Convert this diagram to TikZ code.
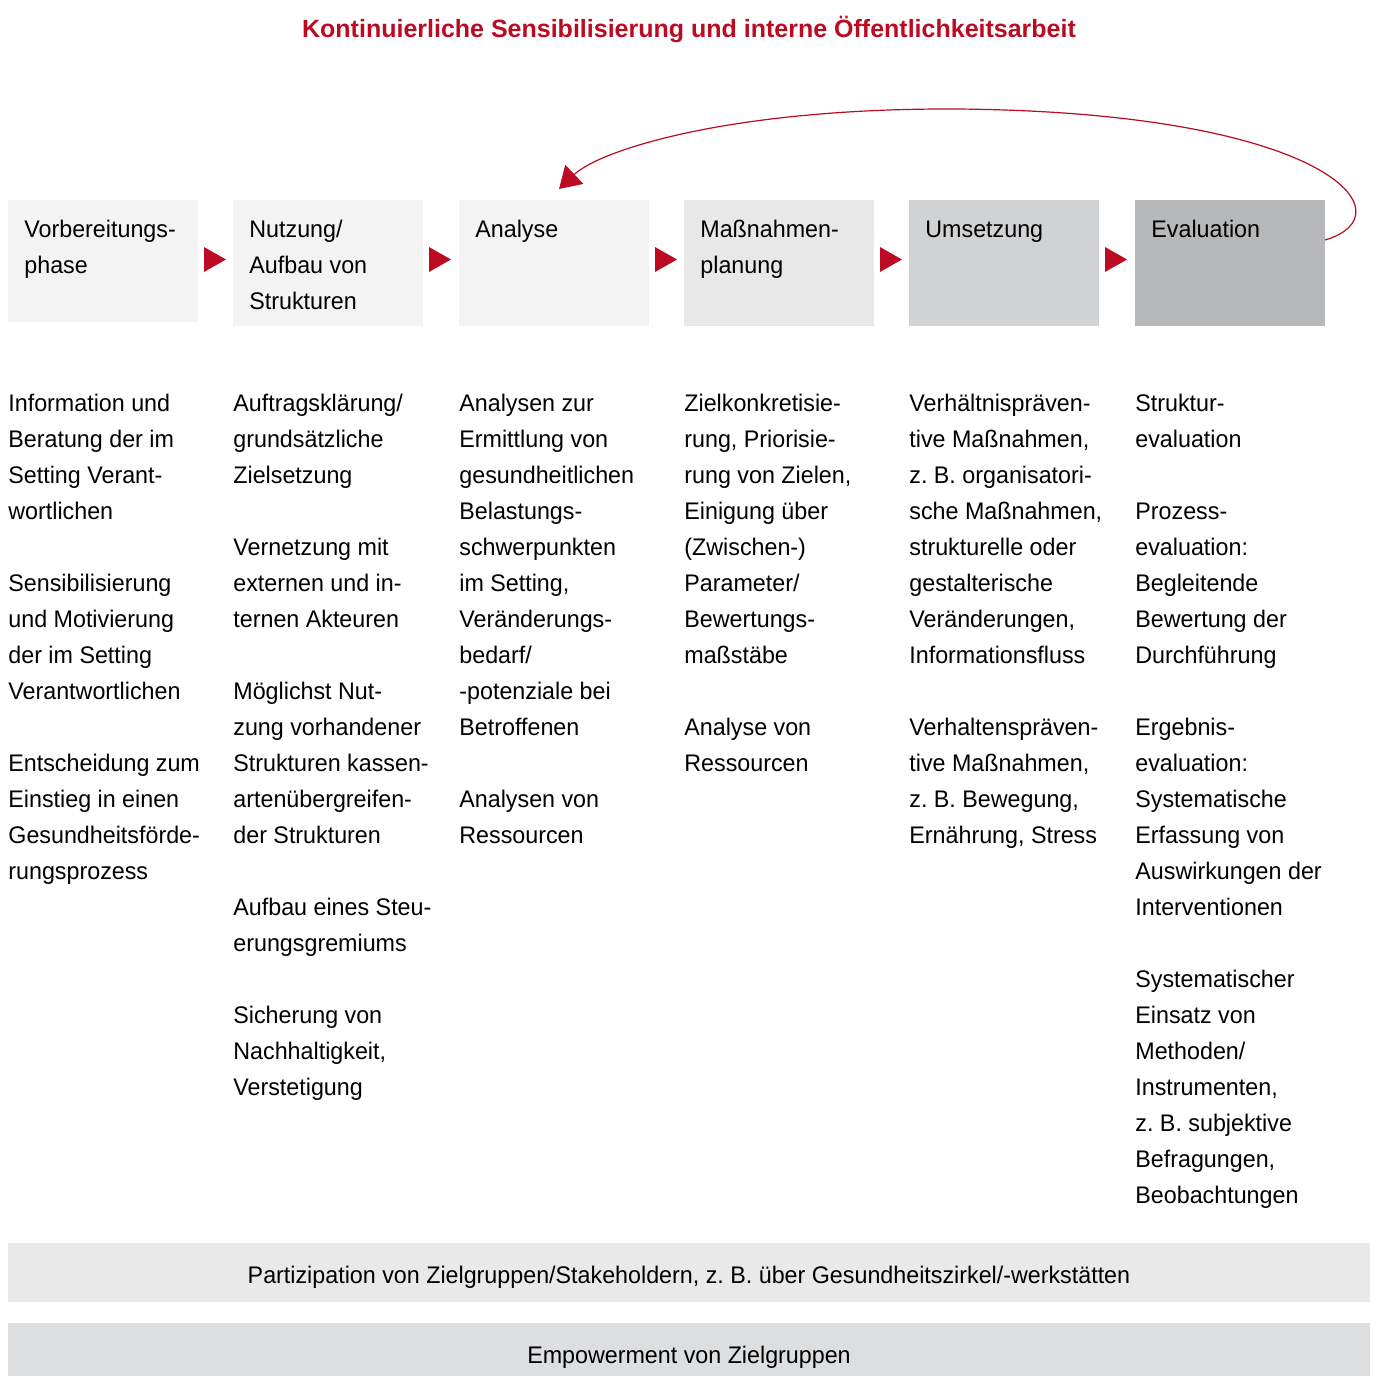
\documentclass[tikz,border=0pt]{standalone}
\usepackage{fontspec}
\setmainfont{Liberation Sans}[FakeStretch=0.97]
\newfontfamily\titlefont{Liberation Sans}
\usetikzlibrary{calc,arrows.meta,positioning}
\definecolor{dgred}{RGB}{187,10,33}
\definecolor{boxlight}{HTML}{F3F3F3}
\definecolor{boxmid}{HTML}{E8E8E8}
\definecolor{boxdark}{HTML}{D1D2D4}
\definecolor{boxdarker}{HTML}{B7B8BA}
\definecolor{barone}{HTML}{E9E9E9}
\definecolor{bartwo}{HTML}{DDDEE0}

\begin{document}
\begin{tikzpicture}[x=0.5pt, y=-0.5pt, every node/.style={font=\fontsize{12}{18}\selectfont},
    phasebox/.style={anchor=north west, minimum width=95pt, minimum height=63pt, inner sep=0pt, outer sep=0pt},
    phasetext/.style={anchor=north west, align=left, inner sep=0pt},
    coltext/.style={anchor=north west, align=left, inner sep=0pt},
    barbox/.style={anchor=north west, minimum width=681pt, inner sep=0pt, outer sep=0pt},
    bartext/.style={anchor=base, inner sep=0pt} ]
    \useasboundingbox (0,0) rectangle (1375,1376);
    % title
    \node[anchor=base, inner sep=0pt, text=dgred, font=\titlefont\fontsize{12.5}{15}\selectfont\bfseries] (title) at (689,37)
        {Kontinuierliche Sensibilisierung und interne Öffentlichkeitsarbeit};
    % phases
    \node[phasebox, fill=boxlight, minimum height=61pt] (b1) at (8,200) {};
    \node[phasebox, fill=boxlight] (b2) at (233,200) {};
    \node[phasebox, fill=boxlight] (b3) at (459,200) {};
    \node[phasebox, fill=boxmid] (b4) at (684,200) {};
    \node[phasebox, fill=boxdark] (b5) at (909,200) {};
    \node[phasebox, fill=boxdarker] (b6) at (1135,200) {};
    \node[phasetext] (p1) at ($(b1.north west)+(16,20)$) {Vorbereitungs-\\phase};
    \node[phasetext] (p2) at ($(b2.north west)+(16,20)$) {Nutzung/\\Aufbau von\\Strukturen};
    \node[phasetext] (p3) at ($(b3.north west)+(16,20)$) {Analyse};
    \node[phasetext] (p4) at ($(b4.north west)+(16,20)$) {Maßnahmen-\\planung};
    \node[phasetext] (p5) at ($(b5.north west)+(16,20)$) {\vphantom{l}Umsetzung};
    \node[phasetext] (p6) at ($(b6.north west)+(16,20)$) {Evaluation};
    % red markers
    \fill[dgred] ($(b1.north east)+(6,47)$) -- ++(22,12.5) -- ++(-22,12.5) -- cycle;
    \fill[dgred] ($(b2.north east)+(6,47)$) -- ++(22,12.5) -- ++(-22,12.5) -- cycle;
    \fill[dgred] ($(b3.north east)+(6,47)$) -- ++(22,12.5) -- ++(-22,12.5) -- cycle;
    \fill[dgred] ($(b4.north east)+(6,47)$) -- ++(22,12.5) -- ++(-22,12.5) -- cycle;
    \fill[dgred] ($(b5.north east)+(6,47)$) -- ++(22,12.5) -- ++(-22,12.5) -- cycle;
    % feedback loop
    \draw[dgred, line width=0.6pt, -{Triangle[length=10.6pt, width=13pt]}]
        ($(b6.north east)+(0,40)$) .. controls (1410,215) and (1330,112) .. (956,109)
        .. controls (730,108) and (600,150) .. ($(b3.north)+(5,-11)$);
    % columns
    \node[coltext] (c1) at (8,394) {Information und\\Beratung der im\\Setting Verant-\\wortlichen\\[18pt]
        Sensibilisierung\\und Motivierung\\der im Setting\\Verantwortlichen\\[18pt]
        Entscheidung zum\\Einstieg in einen\\Gesundheitsförde-\\rungsprozess};
    \node[coltext] (c2) at (233,394) {Auftragsklärung/\\grundsätzliche\\Zielsetzung\\[18pt]
        Vernetzung mit\\externen und in-\\ternen Akteuren\\[18pt]
        Möglichst Nut-\\zung vorhandener\\Strukturen kassen-\\artenübergreifen-\\der Strukturen\\[18pt]
        Aufbau eines Steu-\\erungsgremiums\\[18pt]
        Sicherung von\\Nachhaltigkeit,\\Verstetigung};
    \node[coltext] (c3) at (459,394) {Analysen zur\\Ermittlung von\\gesundheitlichen\\Belastungs-\\schwerpunkten\\im Setting,\\Veränderungs-\\bedarf/\\-potenziale bei\\Betroffenen\\[18pt]
        Analysen von\\Ressourcen};
    \node[coltext] (c4) at (684,394) {Zielkonkretisie-\\rung, Priorisie-\\rung von Zielen,\\Einigung über\\(Zwischen-)\\Parameter/\\Bewertungs-\\maßstäbe\\[18pt]
        Analyse von\\Ressourcen};
    \node[coltext] (c5) at (909,394) {Verhältnispräven-\\tive Maßnahmen,\\z.~B. organisatori-\\sche Maßnahmen,\\strukturelle oder\\gestalterische\\Veränderungen,\\Informationsfluss\\[18pt]
        Verhaltenspräven-\\tive Maßnahmen,\\z.~B. Bewegung,\\Ernährung, Stress};
    \node[coltext] (c6) at (1135,394) {Struktur-\\evaluation\\[18pt]
        Prozess-\\evaluation:\\Begleitende\\Bewertung der\\Durchführung\\[18pt]
        Ergebnis-\\evaluation:\\Systematische\\Erfassung von\\Auswirkungen der\\Interventionen\\[18pt]
        Systematischer\\Einsatz von\\Methoden/\\Instrumenten,\\z.~B. subjektive\\Befragungen,\\Beobachtungen};
    % bottom bars
    \node[barbox, fill=barone, minimum height=29.5pt] (part) at (8,1243) {};
    \node[barbox, fill=bartwo, minimum height=32pt] (empow) at (8,1323) {};
    \node[bartext] (parttext) at (689,1283) {Partizipation von Zielgruppen/Stakeholdern, z.~B. über Gesundheitszirkel/-werkstätten};
    \node[bartext] (empowtext) at (689,1363) {Empowerment von Zielgruppen};
\end{tikzpicture}
\end{document}
